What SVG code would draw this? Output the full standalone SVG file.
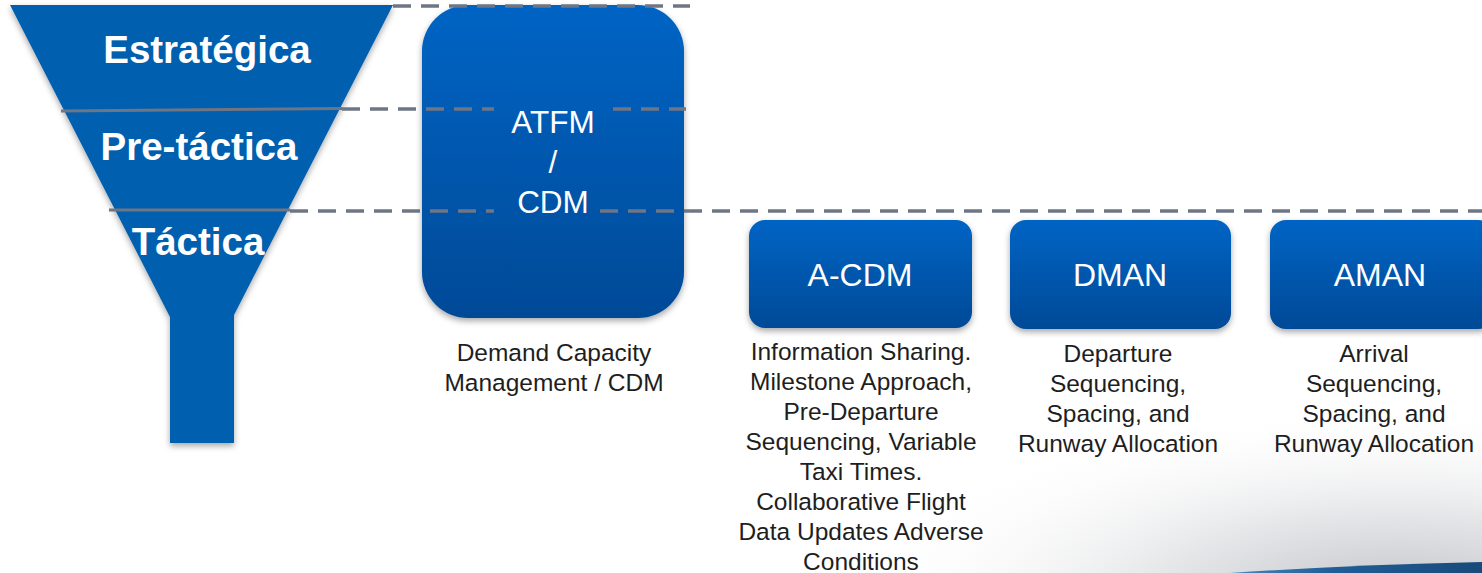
<svg xmlns="http://www.w3.org/2000/svg" width="1482" height="573" viewBox="0 0 1482 573">
<defs>
<linearGradient id="boxg" x1="0" y1="0" x2="0" y2="1">
<stop offset="0" stop-color="#0064C4"/>
<stop offset="1" stop-color="#004A97"/>
</linearGradient>
<linearGradient id="bandg" x1="0" y1="0" x2="1" y2="0">
<stop offset="0" stop-color="#4a86bd"/>
<stop offset="0.4" stop-color="#1f5e98"/>
<stop offset="1" stop-color="#184a7a"/>
</linearGradient>
<radialGradient id="shg" gradientUnits="userSpaceOnUse" cx="1400" cy="600" r="560" gradientTransform="translate(0 390) scale(1 0.35)">
<stop offset="0" stop-color="#c2c4c9"/>
<stop offset="0.45" stop-color="#e6e7e9"/>
<stop offset="1" stop-color="#ffffff" stop-opacity="0"/>
</radialGradient>
<filter id="sh" x="-10%" y="-10%" width="120%" height="130%">
<feDropShadow dx="0" dy="3" stdDeviation="3" flood-color="#000" flood-opacity="0.35"/>
</filter>
</defs>
<style>
.box{fill:url(#boxg);filter:url(#sh)}
.bt{font-family:"Liberation Sans",Arial,sans-serif;fill:#fff;text-anchor:middle}
.ft{font-family:"Liberation Sans",Arial,sans-serif;font-weight:bold;fill:#fff;text-anchor:middle;font-size:38.5px}
.dt{font-family:"Liberation Sans",Arial,sans-serif;fill:#1e1e1e;text-anchor:middle;font-size:24.5px}
.dash{stroke:#6E7585;stroke-width:3.5;stroke-dasharray:18 10;fill:none}
.solid{stroke:#6E7585;stroke-width:3;fill:none}
</style>
<rect width="1482" height="573" fill="#ffffff"/>
<g id="background-swoosh">
<rect x="600" y="400" width="882" height="173" fill="url(#shg)"/>
<path d="M1230,573 Q1350,565 1482,562 L1482,573 Z" fill="url(#bandg)"/>
</g>
<g id="funnel">
<polygon points="10,5 393,5 234,315 234,443 170,443 170,317" fill="#045FAE" filter="url(#sh)"/>
<text class="ft" x="207" y="63">Estratégica</text>
<text class="ft" x="199" y="160">Pre-táctica</text>
<text class="ft" x="198" y="255">Táctica</text>
</g>
<g id="atfm">
<rect class="box" x="422" y="5" width="262" height="313" rx="46"/>
</g>
<g id="connectors">
<line class="solid" x1="61" y1="111" x2="342" y2="108.5"/>
<line class="solid" x1="109" y1="210" x2="290" y2="210"/>
<line class="dash" x1="393" y1="6" x2="690" y2="6"/>
<line class="dash" x1="342" y1="109" x2="494" y2="109"/>
<line class="dash" x1="613" y1="109" x2="686" y2="109"/>
<line class="dash" x1="290" y1="211" x2="494" y2="211"/>
<line class="dash" x1="600" y1="211" x2="1482" y2="211"/>
</g>
<g id="atfm-label">
<text class="bt" font-size="31.5" x="553" y="133">ATFM</text>
<text class="bt" font-size="31.5" x="553" y="173">/</text>
<text class="bt" font-size="31.5" x="553" y="213">CDM</text>
</g>
<g id="acdm">
<rect class="box" x="749" y="220" width="223" height="108" rx="16"/>
<text class="bt" font-size="32" x="860" y="286">A-CDM</text>
</g>
<g id="dman">
<rect class="box" x="1010" y="220" width="221" height="109" rx="16"/>
<text class="bt" font-size="32" x="1120" y="286">DMAN</text>
</g>
<g id="aman">
<rect class="box" x="1270" y="220" width="224" height="109" rx="16"/>
<text class="bt" font-size="32" x="1380" y="286">AMAN</text>
</g>
<g id="desc-atfm">
<text class="dt" x="554" y="361">Demand Capacity</text>
<text class="dt" x="554" y="391">Management / CDM</text>
</g>
<g id="desc-acdm">
<text class="dt" x="861" y="360">Information Sharing.</text>
<text class="dt" x="861" y="390">Milestone Approach,</text>
<text class="dt" x="861" y="420">Pre-Departure</text>
<text class="dt" x="861" y="450">Sequencing, Variable</text>
<text class="dt" x="861" y="480">Taxi Times.</text>
<text class="dt" x="861" y="510">Collaborative Flight</text>
<text class="dt" x="861" y="540">Data Updates Adverse</text>
<text class="dt" x="861" y="570">Conditions</text>
</g>
<g id="desc-dman">
<text class="dt" x="1118" y="362">Departure</text>
<text class="dt" x="1118" y="392">Sequencing,</text>
<text class="dt" x="1118" y="422">Spacing, and</text>
<text class="dt" x="1118" y="452">Runway Allocation</text>
</g>
<g id="desc-aman">
<text class="dt" x="1374" y="362">Arrival</text>
<text class="dt" x="1374" y="392">Sequencing,</text>
<text class="dt" x="1374" y="422">Spacing, and</text>
<text class="dt" x="1374" y="452">Runway Allocation</text>
</g>
</svg>
